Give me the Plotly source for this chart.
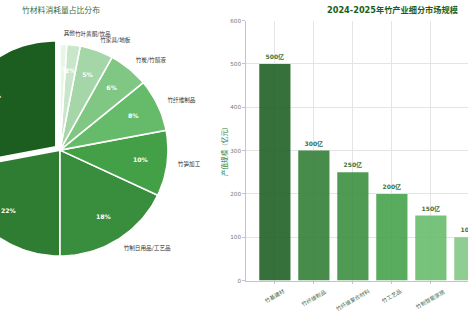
import math
import plotly.graph_objects as go

# ---------------- data ----------------
pie_labels = ["竹建材/竹材", "竹浆造纸", "竹制日用品/工艺品", "竹笋加工", "竹纤维制品",
              "竹炭/竹醋液", "竹家具/地板", "竹叶黄酮/饮品", "其他"]
pie_values = [28, 22, 18, 10, 8, 6, 5, 2, 1]
pie_colors = ["#1b5e20", "#2e7d32", "#388e3c", "#43a047", "#66bb6a",
              "#81c784", "#a5d6a7", "#c8e6c9", "#e8f5e9"]
pie_explode = [0.05, 0, 0, 0, 0, 0, 0, 0, 0]

bar_categories = ["竹基建材", "竹纤维制品", "竹纤维复合材料", "竹工艺品", "竹制智能家居", "竹炭制品", "竹笋食品"]
bar_values = [500, 300, 250, 200, 150, 100, 50]
bar_colors = ["#1b5e20", "#2e7d32", "#388e3c", "#43a047", "#66bb6a", "#81c784", "#a5d6a7"]

# ---------------- geometry (pixels) ----------------
W, H = 468, 313
CX, CY, R = 60.0, 150.0, 108.0        # pie centre / radius in px
PIE_RIGHT = 220.0
BAR_LEFT, BAR_BOTTOM, BAR_TOP = 246.0, 283.0, 18.0
UNIT = 39.0                            # px per category
XLEFT = -0.74

fig = go.Figure()

# ---------------- pie drawn as wedges ----------------
total = float(sum(pie_values))
start = 90.0
for lab, val, col, ex in zip(pie_labels, pie_values, pie_colors, pie_explode):
    sweep = 360.0 * val / total
    a0, a1 = start, start + sweep
    mid = math.radians((a0 + a1) / 2)
    ox, oy = ex * math.cos(mid), ex * math.sin(mid)
    n = max(6, int(sweep / 2))
    xs, ys = [ox], [oy]
    for k in range(n + 1):
        t = math.radians(a0 + (a1 - a0) * k / n)
        xs.append(ox + math.cos(t))
        ys.append(oy + math.sin(t))
    xs.append(ox); ys.append(oy)
    fig.add_trace(go.Scatter(x=xs, y=ys, mode="lines", fill="toself", fillcolor=col,
                             line=dict(color="white", width=1.6), hoverinfo="skip",
                             showlegend=False, xaxis="x", yaxis="y"))
    # percentage label
    fig.add_trace(go.Scatter(x=[ox + 0.75 * math.cos(mid)], y=[oy + 0.75 * math.sin(mid)],
                             mode="text", text=[f"<b>{val}%</b>"],
                             textfont=dict(color="white", size=6.2, family="DejaVu Sans, Noto Sans CJK SC"),
                             hoverinfo="skip", showlegend=False, xaxis="x", yaxis="y"))
    # outer label
    lx, ly = ox + 1.1 * math.cos(mid), oy + 1.1 * math.sin(mid)
    fig.add_trace(go.Scatter(x=[lx], y=[ly], mode="text", text=[lab],
                             textposition="middle right" if math.cos(mid) >= 0 else "middle left",
                             textfont=dict(color="#333333", size=5.6, family="Noto Sans CJK SC"),
                             hoverinfo="skip", showlegend=False, xaxis="x", yaxis="y"))
    start = a1

# ---------------- bar chart ----------------
fig.add_trace(go.Bar(x=bar_categories, y=bar_values, marker=dict(color=bar_colors, line=dict(width=0)),
                     opacity=0.88, width=0.8,
                     texttemplate="<b>%{y}亿</b>", textposition="outside", cliponaxis=True,
                     textfont=dict(color="#1b5e20", size=6, family="DejaVu Sans, Noto Sans CJK SC"),
                     hoverinfo="skip", showlegend=False, xaxis="x2", yaxis="y2"))

for c in bar_categories:
    fig.add_annotation(x=c, y=0, xref="x2", yref="y2", text=c, showarrow=False,
                       textangle=-30, xanchor="center", yanchor="top", yshift=-4,
                       font=dict(size=5.4, color="#4a6a4a", family="Noto Sans CJK SC"))

# titles
fig.add_annotation(x=61 / W, y=1 - 7 / H, xref="paper", yref="paper", text="竹材料消耗量占比分布",
                   showarrow=False, xanchor="center", yanchor="middle",
                   font=dict(size=7.8, color="#3a6e3c", family="Noto Sans CJK SC"))
fig.add_annotation(x=393 / W, y=1 - 7.5 / H, xref="paper", yref="paper",
                   text="<b>2024-2025年竹产业细分市场规模</b>",
                   showarrow=False, xanchor="center", yanchor="middle",
                   font=dict(size=8.2, color="#1b5e20", family="DejaVu Sans, Noto Sans CJK SC"))
fig.add_annotation(x=224 / W, y=1 - 150 / H, xref="paper", yref="paper", text="产值规模（亿元）",
                   showarrow=False, textangle=-90, xanchor="center", yanchor="middle",
                   font=dict(size=6.6, color="#2e7d32", family="Noto Sans CJK SC"))

fig.update_layout(
    width=W, height=H,
    margin=dict(l=0, r=0, t=0, b=0),
    paper_bgcolor="white", plot_bgcolor="white",
    font=dict(family="DejaVu Sans, Noto Sans CJK SC"),
    xaxis=dict(domain=[0, PIE_RIGHT / W], range=[-CX / R, (PIE_RIGHT - CX) / R],
               visible=False, fixedrange=True),
    yaxis=dict(domain=[0, 1], range=[(CY - H) / R, CY / R], visible=False, fixedrange=True),
    xaxis2=dict(domain=[BAR_LEFT / W, 1], range=[XLEFT, XLEFT + (W - BAR_LEFT) / UNIT],
                anchor="y2", showgrid=True, gridcolor="#e4e4e4", gridwidth=0.8,
                showline=True, linecolor="#c4c4c4", linewidth=0.8,
                ticks="outside", ticklen=3, tickcolor="#c4c4c4", showticklabels=False,
                zeroline=False),
    yaxis2=dict(domain=[(H - BAR_BOTTOM) / H, (H - BAR_TOP) / H], range=[0, 600],
                anchor="x2", dtick=100, showgrid=True, gridcolor="#e4e4e4", gridwidth=0.8,
                showline=True, linecolor="#c4c4c4", linewidth=0.8,
                ticks="outside", ticklen=3, tickcolor="#c4c4c4",
                tickfont=dict(size=5.6, color="#777777"), zeroline=False),
)

fig.write_html("out.html")
